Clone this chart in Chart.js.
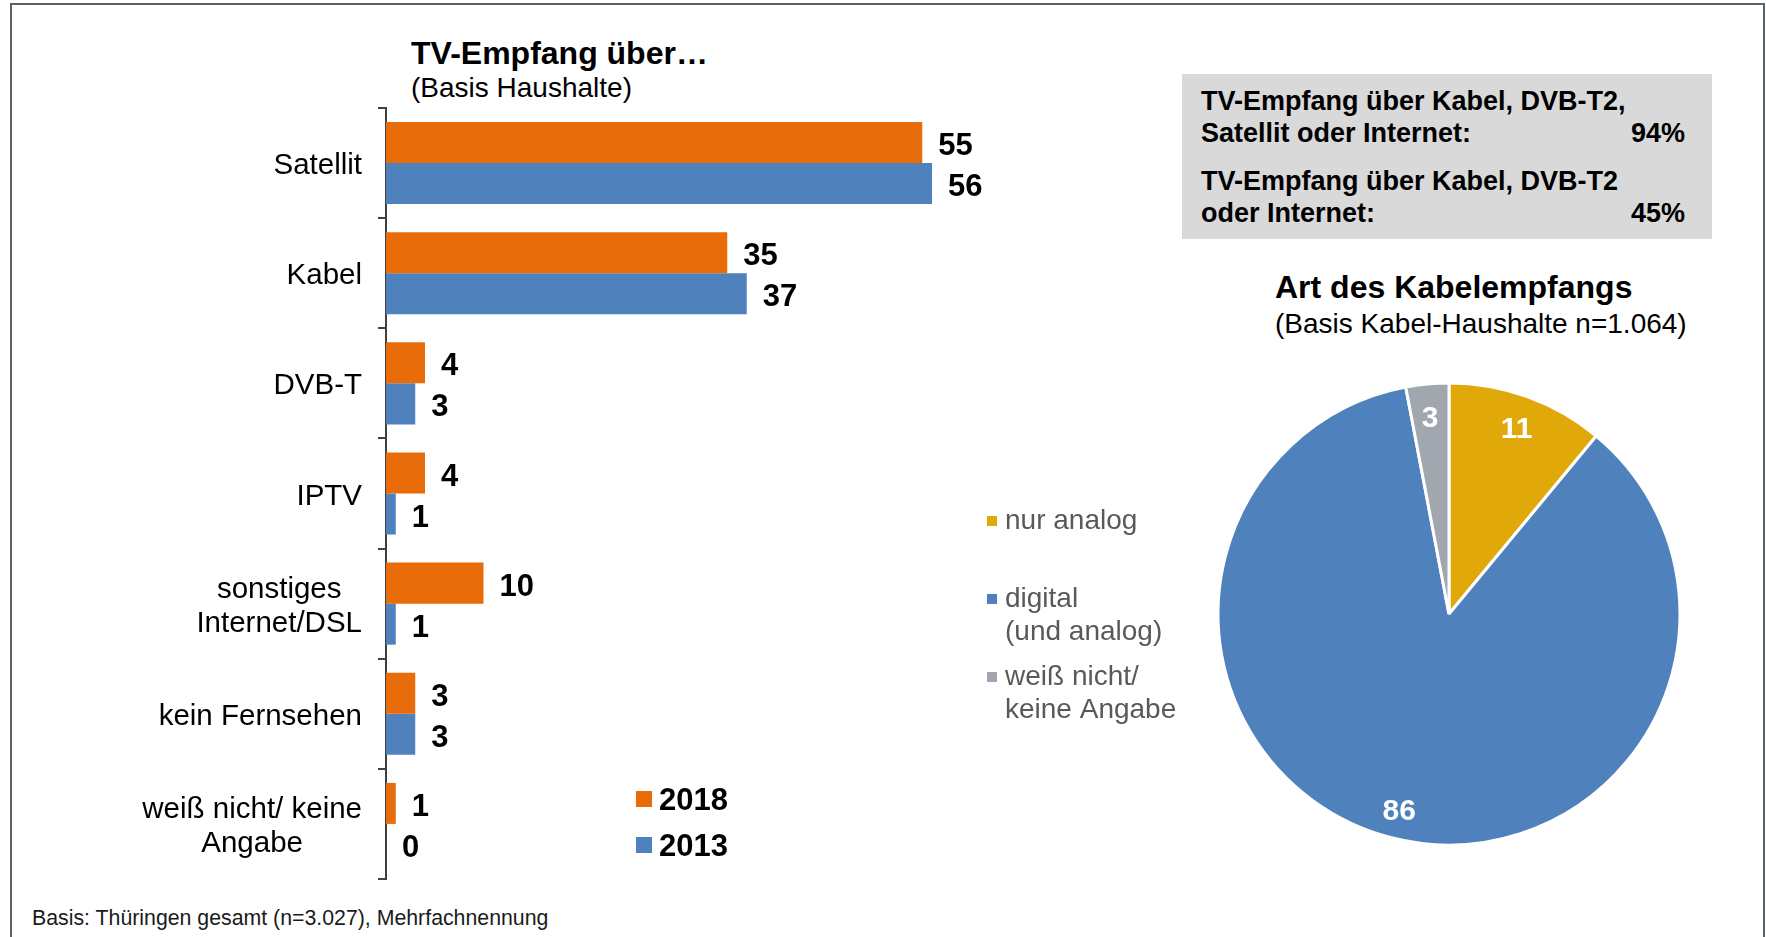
<!DOCTYPE html>
<html lang="de">
<head>
<meta charset="utf-8">
<title>TV-Empfang</title>
<script src="https://cdn.jsdelivr.net/npm/chart.js@4.4.1/dist/chart.umd.min.js"></script>
<style>
  html, body { margin: 0; padding: 0; background: #fff; }
  body { width: 1766px; height: 937px; position: relative; overflow: hidden;
         font-family: 'Liberation Sans', Arial, sans-serif; color: #000; }
  .frame { position: absolute; left: 10px; top: 3px; width: 1751px; height: 1000px; border: 2px solid #59616b; }
  .txt { position: absolute; white-space: nowrap; line-height: 1; }
  .b { font-weight: bold; }
  .box { position: absolute; left: 1182px; top: 74px; width: 530px; height: 165px; background: #d9d9d9; }
  .box .txt { font-size: 27px; font-weight: bold; }
  canvas { position: absolute; }
</style>
</head>
<body>
<div class="frame"></div>

<div class="txt b" style="left:411px; top:37px; font-size:32px;">TV-Empfang über…</div>
<div class="txt" style="left:411px; top:74px; font-size:28px;">(Basis Haushalte)</div>

<div class="box">
  <div class="txt" style="left:19px; top:14px;">TV-Empfang über Kabel, DVB-T2,</div>
  <div class="txt" style="left:19px; top:46px;">Satellit oder Internet:</div>
  <div class="txt" style="right:27px; top:46px;">94%</div>
  <div class="txt" style="left:19px; top:94px;">TV-Empfang über Kabel, DVB-T2</div>
  <div class="txt" style="left:19px; top:126px;">oder Internet:</div>
  <div class="txt" style="right:27px; top:126px;">45%</div>
</div>

<div class="txt b" style="left:1275px; top:271px; font-size:32px;">Art des Kabelempfangs</div>
<div class="txt" style="left:1275px; top:310px; font-size:28px;">(Basis Kabel-Haushalte n=1.064)</div>

<div class="txt" style="left:32px; top:908px; font-size:21.3px; color:#1a1a1a;">Basis: Thüringen gesamt (n=3.027), Mehrfachnennung</div>

<canvas id="barChart" width="1000" height="937" style="left:0; top:0;"></canvas>
<canvas id="pieChart" width="806" height="577" style="left:960px; top:360px;"></canvas>

<script>
// Balken: TV-Empfang über...
const categories = ['Satellit', 'Kabel', 'DVB-T', 'IPTV', ['sonstiges', 'Internet/DSL'], 'kein Fernsehen', ['weiß nicht/ keine', 'Angabe']];
const seriesNames = ['2018', '2013'];
const values2018 = [55, 35, 4, 4, 10, 3, 1];
const values2013 = [56, 37, 3, 1, 1, 3, 0];

// Kreis: Art des Kabelempfangs
const pieCategories = ['nur analog', ['digital', '(und analog)'], ['weiß nicht/', 'keine Angabe']];
const pieValues = [11, 86, 3];

const FONT = '"Liberation Sans", Arial, sans-serif';

// Achsenbeschriftung, Werte und Legende für das Balkendiagramm
const barLabels = {
    id: 'barLabels',
    afterDatasetsDraw(chart) {
        const ctx = chart.ctx;
        const yScale = chart.scales.y;
        const area = chart.chartArea;
        ctx.save();
        ctx.fillStyle = '#000';
        ctx.textBaseline = 'middle';

        // Kategorien: rechtsbündig, mehrzeilige zentriert
        ctx.font = '29.5px ' + FONT;
        ctx.textAlign = 'center';
        chart.data.labels.forEach((lab, i) => {
            const lines = Array.isArray(lab) ? lab : [lab];
            const w = Math.max(...lines.map(l => ctx.measureText(l).width));
            const cx = area.left - 24 - w / 2;
            const cy = yScale.getPixelForValue(i) + 3;
            lines.forEach((l, k) => ctx.fillText(l, cx, cy + (k - (lines.length - 1) / 2) * 34));
        });

        // Werte
        ctx.font = 'bold 31px ' + FONT;
        ctx.textAlign = 'left';
        chart.data.datasets.forEach((ds, di) => {
            chart.getDatasetMeta(di).data.forEach((bar, i) => {
                ctx.fillText(String(ds.data[i]), bar.x + 16, bar.y + 4);
            });
        });

        // Legende
        const lg = chart.options.plugins.barLabels;
        chart.data.datasets.forEach((ds, di) => {
            const y = lg.y + di * lg.step;
            ctx.fillStyle = ds.backgroundColor;
            ctx.fillRect(lg.x, y - 8, 16, 16);
            ctx.fillStyle = '#000';
            ctx.fillText(ds.label, lg.x + 23, y + 2);
        });
        ctx.restore();
    }
};

// Werte und Legende für das Kreisdiagramm
const pieLabels = {
    id: 'pieLabels',
    afterDatasetsDraw(chart) {
        const ctx = chart.ctx;
        const ds = chart.data.datasets[0];
        const meta = chart.getDatasetMeta(0);
        ctx.save();
        ctx.font = 'bold 30px ' + FONT;
        ctx.fillStyle = '#fff';
        ctx.textAlign = 'center';
        ctx.textBaseline = 'middle';
        meta.data.forEach((arc, i) => {
            const p = arc.getProps(['x', 'y', 'startAngle', 'endAngle', 'outerRadius']);
            const mid = (p.startAngle + p.endAngle) / 2;
            const r = p.outerRadius * 0.865;
            ctx.fillText(String(ds.data[i]), p.x + Math.cos(mid) * r, p.y + Math.sin(mid) * r + 4);
        });

        const lg = chart.options.plugins.pieLabels;
        ctx.font = '28px ' + FONT;
        ctx.textAlign = 'left';
        ctx.textBaseline = 'alphabetic';
        chart.data.labels.forEach((lab, i) => {
            const lines = Array.isArray(lab) ? lab : [lab];
            const base = lg.y[i];
            ctx.fillStyle = ds.backgroundColor[i];
            ctx.fillRect(lg.x, base - 13, 10, 10);
            ctx.fillStyle = '#595959';
            lines.forEach((l, k) => ctx.fillText(l, lg.x + 18, base + k * 33));
        });
        ctx.restore();
    }
};

new Chart(document.getElementById('barChart').getContext('2d'), {
    type: 'bar',
    data: {
        labels: categories,
        datasets: [
            { label: seriesNames[0], data: values2018, backgroundColor: '#E96C0B', categoryPercentage: 0.745, barPercentage: 1.0 },
            { label: seriesNames[1], data: values2013, backgroundColor: '#4F81BD', categoryPercentage: 0.745, barPercentage: 1.0 }
        ]
    },
    options: {
        indexAxis: 'y',
        responsive: false,
        animation: false,
        layout: { padding: { left: 378, top: 108, right: 29, bottom: 58 } },
        scales: {
            x: { display: false, min: 0, max: 60 },
            y: {
                ticks: { display: false },
                grid: { display: true, drawOnChartArea: false, drawTicks: true, tickLength: 8, color: '#404040', lineWidth: 2 },
                border: { display: true, color: '#404040', width: 2 },
                afterFit: (scale) => { scale.width = 8; }
            }
        },
        plugins: {
            legend: { display: false },
            tooltip: { enabled: false },
            barLabels: { x: 636, y: 799, step: 46 }
        }
    },
    plugins: [barLabels]
});

new Chart(document.getElementById('pieChart').getContext('2d'), {
    type: 'pie',
    data: {
        labels: pieCategories,
        datasets: [{
            data: pieValues,
            backgroundColor: ['#E0A909', '#4F81BD', '#A1A7AE'],
            borderColor: '#fff',
            borderWidth: 3
        }]
    },
    options: {
        responsive: false,
        animation: false,
        layout: { padding: { left: 256.5, right: 84.5, top: 21.5, bottom: 90.5 } },
        plugins: {
            legend: { display: false },
            tooltip: { enabled: false },
            pieLabels: { x: 27, y: [169, 247, 325] }
        }
    },
    plugins: [pieLabels]
});
</script>
</body>
</html>
